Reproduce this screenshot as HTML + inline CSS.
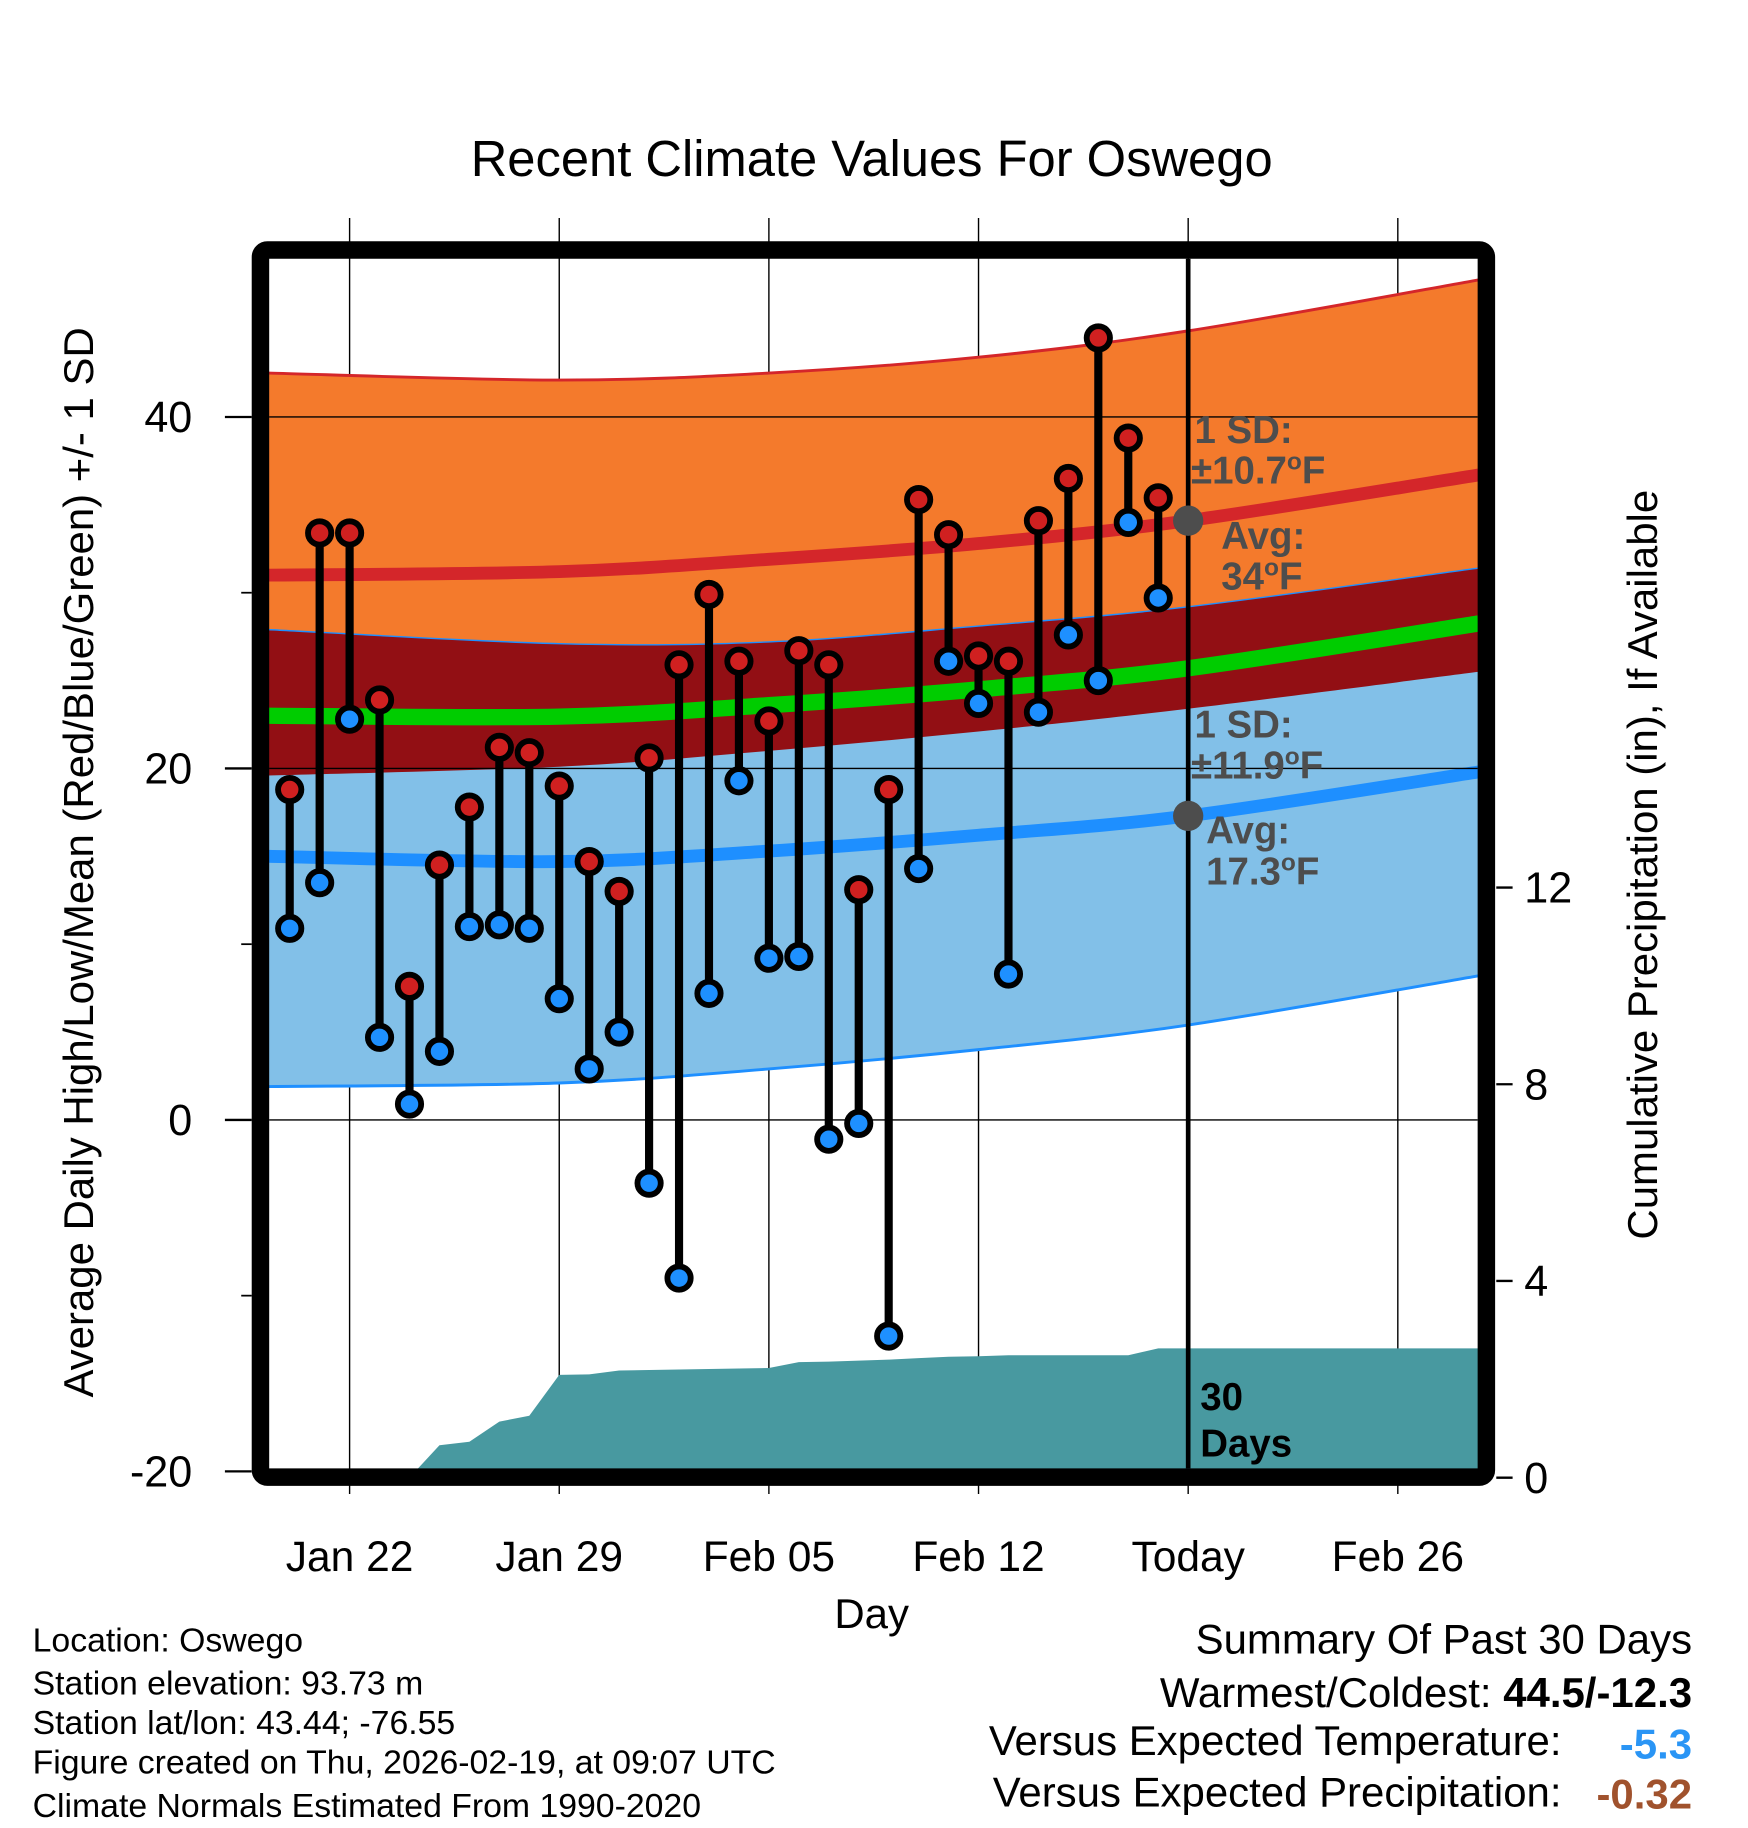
<!DOCTYPE html>
<html><head><meta charset="utf-8"><style>
html,body{margin:0;padding:0;background:#fff}
svg{display:block}
text{font-family:"Liberation Sans",sans-serif}
</style></head><body>
<svg id="chart" width="1748" height="1828" viewBox="0 0 1500 1568.6" xmlns="http://www.w3.org/2000/svg">
<g id="plot"></g>
</svg>
<script>
const dayLabels = ["Jan 22","Jan 29","Feb 05","Feb 12","Today","Feb 26"];
const dayTicks = [0,7,14,21,28,35];
const obsDays = [-2,-1,0,1,2,3,4,5,6,7,8,9,10,11,12,13,14,15,16,17,18,19,20,21,22,23,24,25,26,27];
const highs = [18.8,33.4,33.4,23.9,7.6,14.5,17.8,21.2,20.9,19.0,14.7,13.0,20.6,25.9,29.9,26.1,22.7,26.7,25.9,13.1,18.8,35.3,33.3,26.4,26.1,34.1,36.5,44.5,38.8,35.4];
const lows = [10.9,13.5,22.8,4.7,0.9,3.9,11.0,11.1,10.9,6.9,2.9,5.0,-3.6,-9.0,7.2,19.3,9.2,9.3,-1.1,-0.2,-12.3,14.3,26.1,23.7,8.3,23.2,27.6,25.0,34.0,29.7];
const normDays = [-2.7,7,14,21,28,37.7];
const highAvg = [31.0,31.2,31.9,32.8,34.1,36.7];
const highUpper = [42.5,42.1,42.5,43.4,44.9,47.8];
const highLower = [19.6,20.1,21.0,22.1,23.4,25.5];
const lowAvg = [15.0,14.7,15.3,16.2,17.3,19.8];
const lowUpper = [27.9,27.1,27.2,28.1,29.2,31.4];
const lowLower = [1.9,2.1,2.9,4.0,5.4,8.2];
const precipDays = [-2.7,2,3,4,5,6,7,8,9,10,11,12,13,14,15,16,17,18,19,20,21,22,23,24,25,26,27,37.7];
const precipCum = [0,0,0.66,0.73,1.14,1.26,2.09,2.10,2.18,2.19,2.20,2.21,2.22,2.23,2.35,2.36,2.38,2.40,2.43,2.46,2.47,2.49,2.49,2.49,2.49,2.49,2.63,2.63];
const leftTicks = [40,20,0,-20];
const rightTicks = [0,4,8,12];

const NS="http://www.w3.org/2000/svg";
const g=document.getElementById('plot');
const X0=231,X1=1268,Y0=222,Y1=1260;
const xS=d=>300+d*25.7;
const yS=t=>961-t*15.08;
const pS=p=>1268-p*42.2;
function mk(tag,attrs,parent){const e=document.createElementNS(NS,tag);for(const k in attrs)e.setAttribute(k,attrs[k]);(parent||g).appendChild(e);return e;}
function curve(days,vals){
  const pts=days.map((d,i)=>[xS(d),yS(vals[i])]);
  let s='M'+pts[0][0]+','+pts[0][1];
  for(let i=0;i<pts.length-1;i++){const p0=pts[Math.max(i-1,0)],p1=pts[i],p2=pts[i+1],p3=pts[Math.min(i+2,pts.length-1)];
    s+=' C'+(p1[0]+(p2[0]-p0[0])/6)+','+(p1[1]+(p2[1]-p0[1])/6)+' '+(p2[0]-(p3[0]-p1[0])/6)+','+(p2[1]-(p3[1]-p1[1])/6)+' '+p2[0]+','+p2[1];}
  return s;}
function rev(days,vals){return curve(days.slice().reverse(),vals.slice().reverse()).replace(/^M/,'L');}
function band(up,lo,fill,name){const p=mk('path',{d:curve(normDays,up)+' '+rev(normDays,lo)+' Z',fill:fill});

}

dayTicks.forEach((d,i)=>{const l=mk('line',{x1:xS(d),x2:xS(d),y1:187,y2:1282,stroke:'#000','stroke-width':1.2});

});
band(highUpper,highLower,'#f47a2c','high-sd-band');
band(lowUpper,lowLower,'#82c0e8','low-sd-band');
band(lowUpper,highLower,'#920f14','overlap-band');
const mean=highAvg.map((h,i)=>(h+lowAvg[i])/2);
[[highUpper,'#d4262a',2.5,'high-upper-edge'],[lowLower,'#1e8fff',2.5,'low-lower-edge'],[lowUpper,'#1e8fff',1.2,'low-upper-edge'],[highAvg,'#d4262a',11,'high-avg-line'],[lowAvg,'#1e8fff',11,'low-avg-line'],[mean,'#00cc00',14,'mean-line']].forEach(a=>{
 const p=mk('path',{d:curve(normDays,a[0]),fill:'none',stroke:a[1],'stroke-width':a[2]});
 
 });
leftTicks.forEach(t=>{const l=mk('line',{x1:X0,x2:X1,y1:yS(t),y2:yS(t),stroke:'#000','stroke-width':1.2});

});
let pd='M'+xS(precipDays[0])+','+pS(0);
precipDays.forEach((d,i)=>{pd+=' L'+xS(d)+','+pS(precipCum[i]);});
pd+=' L'+xS(precipDays[precipDays.length-1])+','+pS(0)+' Z';
const pa=mk('path',{d:pd,fill:'#4899a0'});


obsDays.forEach((d,i)=>{
 const l=mk('line',{x1:xS(d),x2:xS(d),y1:yS(highs[i]),y2:yS(lows[i]),stroke:'#000','stroke-width':7});
 
 
 const h=mk('circle',{cx:xS(d),cy:yS(highs[i]),r:10,fill:'#d02020',stroke:'#000','stroke-width':5});
 
 
 const lo=mk('circle',{cx:xS(d),cy:yS(lows[i]),r:10,fill:'#1e90ff',stroke:'#000','stroke-width':5});
 
 
});
const tl=mk('line',{x1:xS(28),x2:xS(28),y1:Y0,y2:Y1,stroke:'#000','stroke-width':4});


[[highAvg[4],'today-high-avg-dot'],[lowAvg[4],'today-low-avg-dot']].forEach(a=>{const c=mk('circle',{cx:xS(28),cy:yS(a[0]),r:13,fill:'#4d4d4d'});

});
const fr=mk('rect',{x:223.5,y:214.5,width:1052,height:1053,rx:6,fill:'none',stroke:'#000','stroke-width':15});


leftTicks.forEach(t=>{
 const l=mk('line',{x1:193,x2:216,y1:yS(t),y2:yS(t),stroke:'#000','stroke-width':2});
 
 
 const tx=mk('text',{x:165,y:yS(t)+13,'font-size':37,'text-anchor':'end'});tx.textContent=t;
 
 
});
[30,10,-10].forEach(t=>{const l=mk('line',{x1:207,x2:216,y1:yS(t),y2:yS(t),stroke:'#000','stroke-width':1.5});

});
rightTicks.forEach(t=>{
 const l=mk('line',{x1:1284,x2:1298,y1:pS(t),y2:pS(t),stroke:'#000','stroke-width':2});
 
 
 const tx=mk('text',{x:1308,y:pS(t)+13,'font-size':37});tx.textContent=t;
 
 
});
dayTicks.forEach((d,i)=>{const tx=mk('text',{x:xS(d),y:1348,'font-size':36.5,'text-anchor':'middle'});tx.textContent=dayLabels[i];

});
</script>
<svg style="position:absolute;left:0;top:0" width="1748" height="1828" viewBox="0 0 1500 1568.6" xmlns="http://www.w3.org/2000/svg">
<text x="748" y="151" font-size="43.5" text-anchor="middle">Recent Climate Values For Oswego</text>
<text transform="translate(80,740) rotate(-90)" font-size="36" text-anchor="middle">Average Daily High/Low/Mean (Red/Blue/Green) +/- 1 SD</text>
<text transform="translate(1422,742) rotate(-90)" font-size="36" text-anchor="middle">Cumulative Precipitation (in), If Available</text>
<text x="748" y="1397" font-size="36" text-anchor="middle">Day</text>
<g fill="#4d4d4d" font-weight="bold" font-size="33">
<text x="1025" y="380">1 SD:</text><text x="1022" y="415">±10.7<tspan font-size="21" dy="-12">o</tspan><tspan dy="12">F</tspan></text>
<text x="1048" y="471">Avg:</text><text x="1048" y="506">34<tspan font-size="21" dy="-12">o</tspan><tspan dy="12">F</tspan></text>
<text x="1025" y="633">1 SD:</text><text x="1022" y="668">±11.9<tspan font-size="21" dy="-12">o</tspan><tspan dy="12">F</tspan></text>
<text x="1035" y="724">Avg:</text><text x="1035" y="759">17.3<tspan font-size="21" dy="-12">o</tspan><tspan dy="12">F</tspan></text>
</g>
<text x="1030" y="1210" font-size="33" font-weight="bold">30</text>
<text x="1030" y="1250" font-size="33" font-weight="bold">Days</text>
<g font-size="29">
<text x="28" y="1417">Location: Oswego</text>
<text x="28" y="1454">Station elevation: 93.73 m</text>
<text x="28" y="1488">Station lat/lon: 43.44; -76.55</text>
<text x="28" y="1522">Figure created on Thu, 2026-02-19, at 09:07 UTC</text>
<text x="28" y="1559">Climate Normals Estimated From 1990-2020</text>
</g>
<g font-size="36" text-anchor="end">
<text x="1452" y="1419">Summary Of Past 30 Days</text>
<text x="1452" y="1465">Warmest/Coldest: <tspan font-weight="bold">44.5/-12.3</tspan></text>
<text x="1340" y="1506">Versus Expected Temperature:</text>
<text x="1452" y="1509" font-weight="bold" fill="#2a95f5">-5.3</text>
<text x="1340" y="1550">Versus Expected Precipitation:</text>
<text x="1452" y="1552" font-weight="bold" fill="#a0522d">-0.32</text>
</g>
</svg>
</body></html>
